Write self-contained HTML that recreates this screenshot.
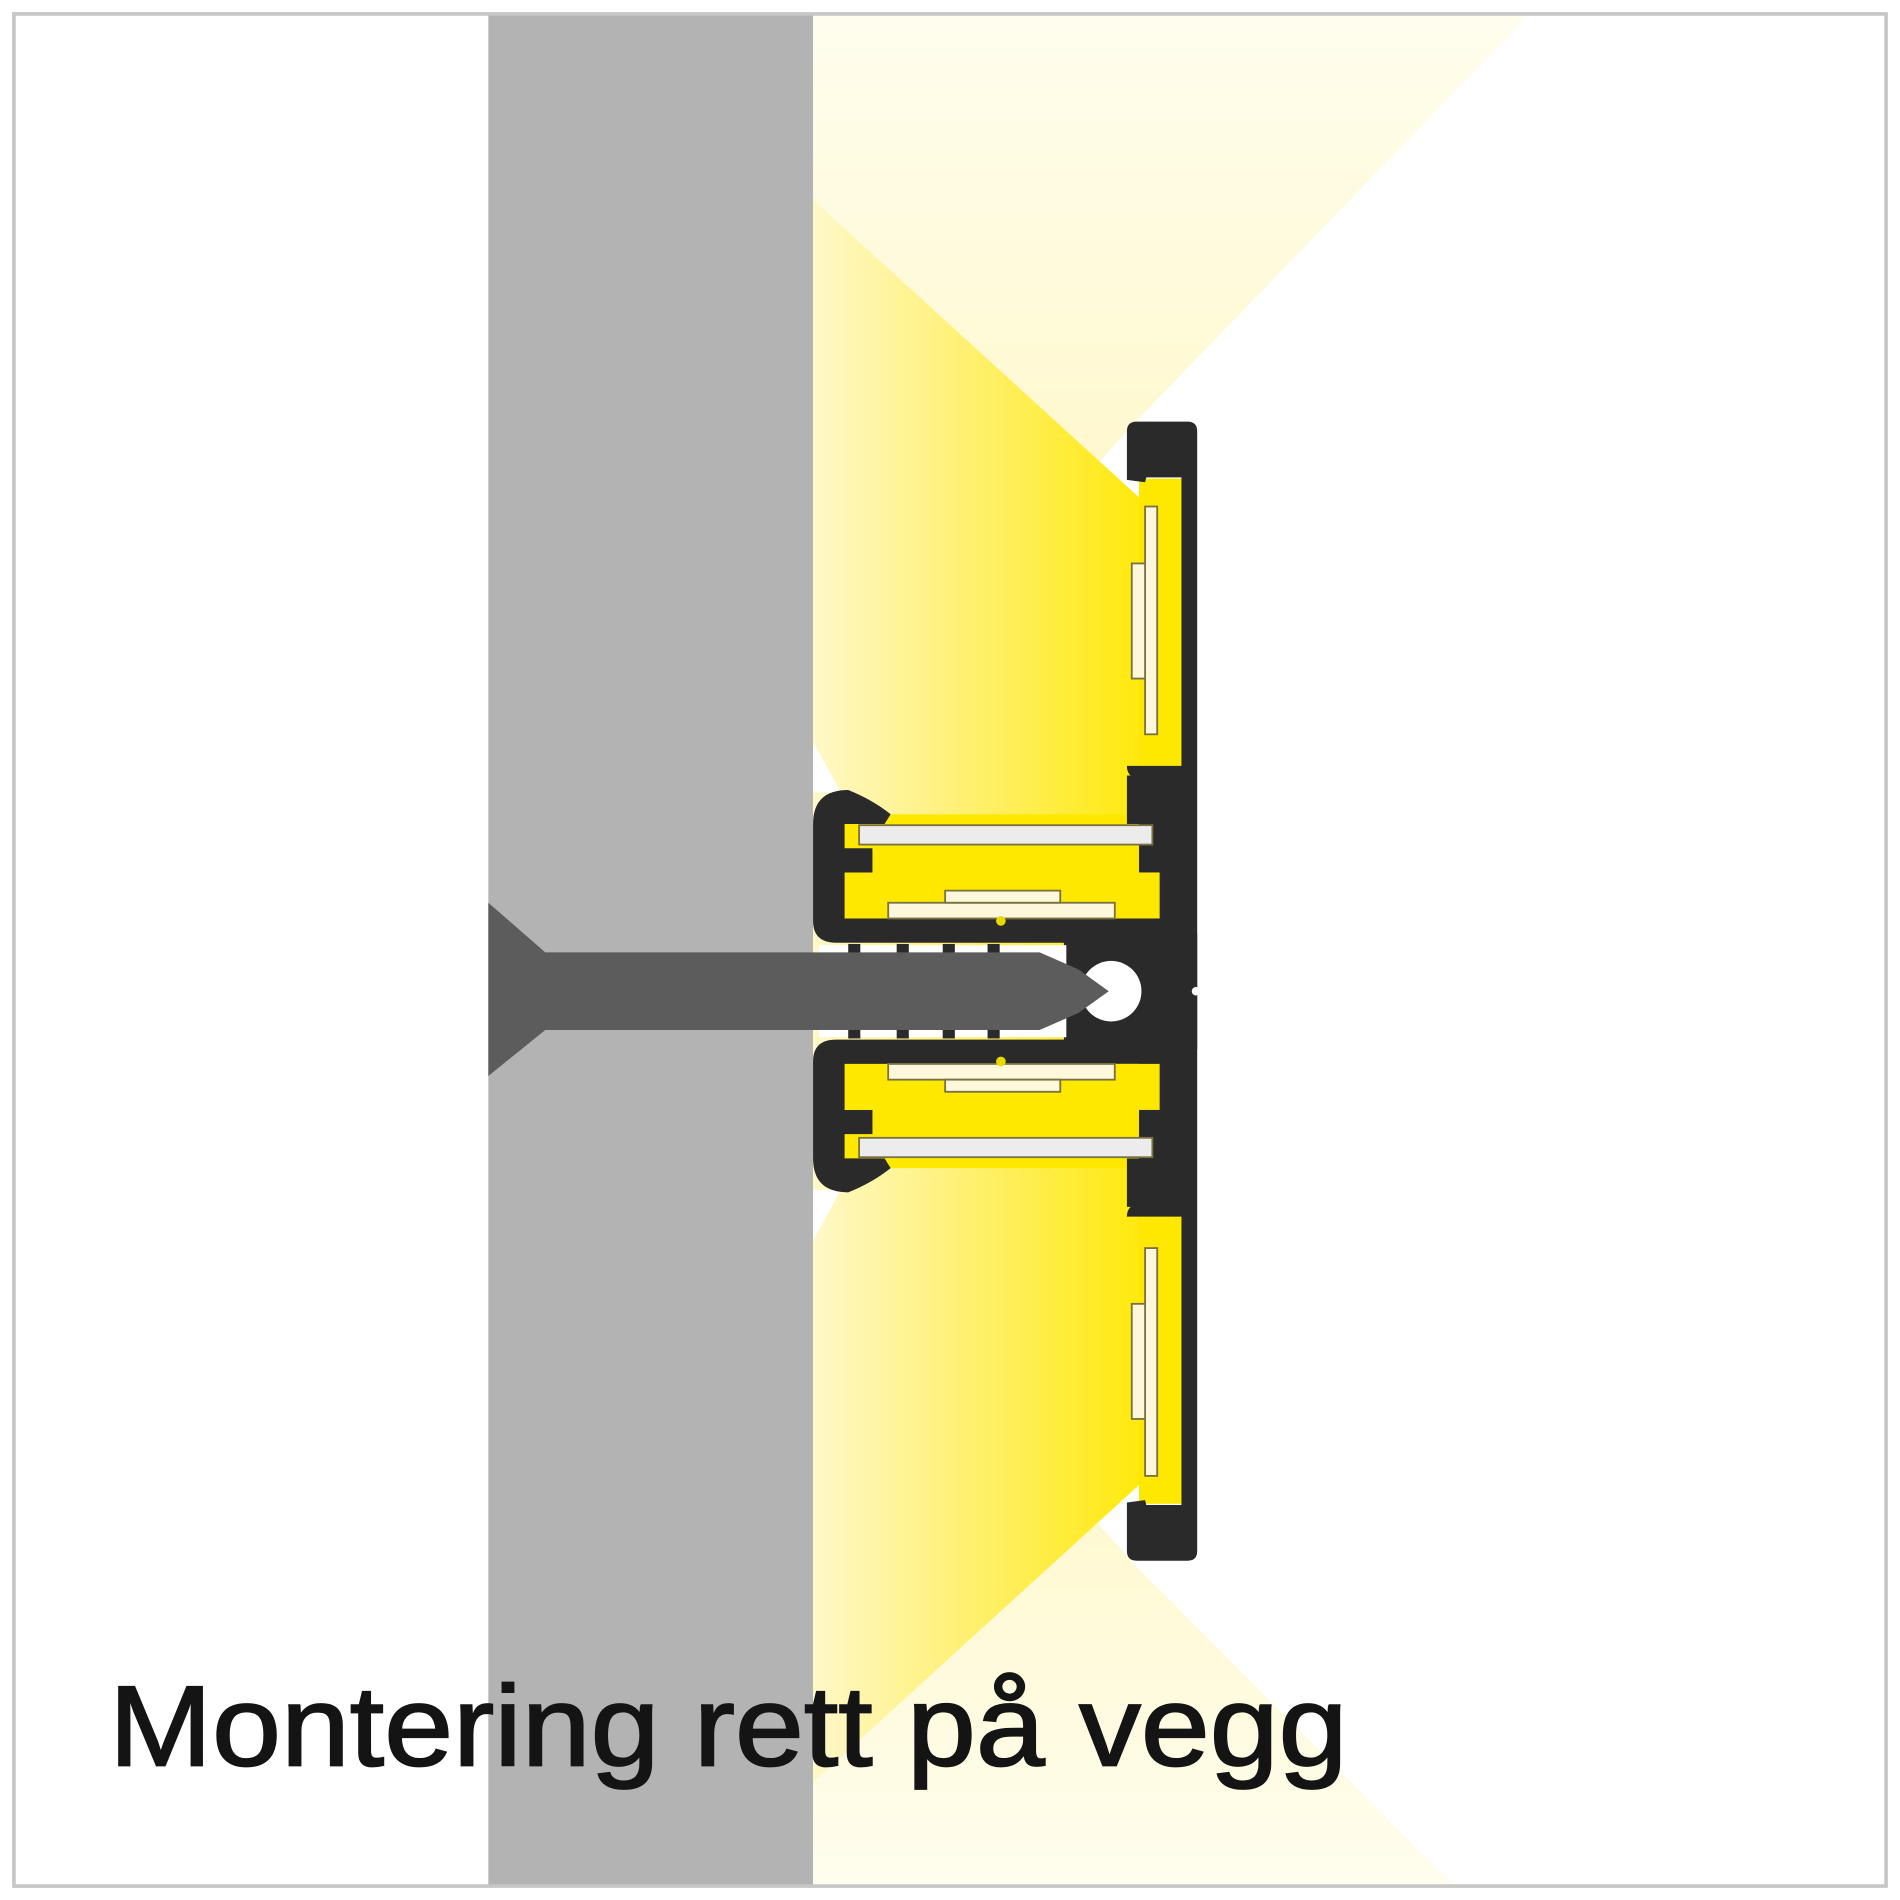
<!DOCTYPE html>
<html><head><meta charset="utf-8"><style>html,body{margin:0;padding:0;background:#fff}svg{display:block}</style></head>
<body>
<svg width="1900" height="1900" viewBox="0 0 1568 1568" xmlns="http://www.w3.org/2000/svg">
<defs>
<linearGradient id="gy" x1="671" y1="0" x2="960" y2="0" gradientUnits="userSpaceOnUse">
<stop offset="0" stop-color="#fff8c8"/><stop offset="0.45" stop-color="#fff070"/><stop offset="1" stop-color="#ffe800"/>
</linearGradient>
<linearGradient id="gp" x1="0" y1="12" x2="0" y2="640" gradientUnits="userSpaceOnUse">
<stop offset="0" stop-color="#fffdee"/><stop offset="1" stop-color="#fff5b8"/>
</linearGradient>
<linearGradient id="gp2" x1="0" y1="1556" x2="0" y2="990" gradientUnits="userSpaceOnUse">
<stop offset="0" stop-color="#fffdee"/><stop offset="1" stop-color="#fff5b8"/>
</linearGradient>
</defs>
<rect x="0" y="0" width="1568" height="1568" fill="#fff"/>
<rect x="403" y="12" width="268" height="1544" fill="#b3b3b3"/>
<polygon points="671,12 1262,12 940,345 671,640" fill="url(#gp)"/>
<polygon points="671,1556 1200,1556 935,1290 671,990" fill="url(#gp2)"/>
<polygon points="671,165 945,415 975,400 975,1236 945,1221 671,1471" fill="url(#gy)"/>
<rect x="940" y="395" width="36" height="846" fill="#ffe800"/>
<polygon points="671,612 694,654 671,654" fill="#fff"/>
<polygon points="671,1024 694,982 671,982" fill="#fff"/>
<rect x="695" y="672" width="265" height="90" fill="#ffe800"/>
<rect x="695" y="874" width="265" height="90" fill="#ffe800"/>
<g fill="#2a2a2a">
<path d="M930,356 Q930,348 938,348 L980,348 Q988,348 988,356 L988,1280 Q988,1288 980,1288 L938,1288 Q930,1288 930,1280 L930,1240 L945,1238 L946,1242 L975,1242 L975,394 L946,394 L945,398 L930,396 Z"/>
<path d="M930,632 L976,632 L976,1004 L930,1004 Q930,996 937,994 L940,994 L940,642 L937,642 Q930,640 930,632 Z"/>
<rect x="930" y="640" width="46" height="40"/>
<rect x="930" y="956" width="46" height="40"/>
<path d="M671,680 Q671,652 700,652 Q720,660 735,672 L730,680 L697,680 L697,700 L720,700 L720,720 L697,720 L697,758 L975,758 L975,778 L690,778 Q671,778 671,760 Z"/>
<path d="M671,956 Q671,984 700,984 Q720,976 735,964 L730,956 L697,956 L697,936 L720,936 L720,916 L697,916 L697,878 L975,878 L975,858 L690,858 Q671,858 671,876 Z"/>
<rect x="878" y="770" width="100" height="96"/>
<rect x="960" y="770" width="28" height="96"/>
</g>
<!-- yellow inner pockets near right column -->
<rect x="920" y="720" width="37" height="38" fill="#ffe800"/>
<rect x="920" y="878" width="37" height="38" fill="#ffe800"/>
<rect x="920" y="680" width="10" height="20" fill="#ffe800"/>
<rect x="920" y="936" width="10" height="20" fill="#ffe800"/>
<circle cx="987" cy="818" r="3.5" fill="#fff"/>
<circle cx="917" cy="818" r="25" fill="#fff"/>
<rect x="676" y="780" width="204" height="76" fill="#fff"/>
<g fill="#2a2a2a">
<rect x="700" y="779" width="10" height="8"/><rect x="740" y="779" width="10" height="8"/><rect x="778" y="779" width="10" height="8"/><rect x="815" y="779" width="10" height="8"/>
<rect x="700" y="849" width="10" height="8"/><rect x="740" y="849" width="10" height="8"/><rect x="778" y="849" width="10" height="8"/><rect x="815" y="849" width="10" height="8"/>
</g>
<polygon points="403,745 450,786 858,786 890,800 915,818 890,836 858,850 450,850 403,888" fill="#5c5c5c"/>
<g stroke="#7a7040" stroke-width="1.5">
<rect x="709" y="681" width="242" height="16" fill="#ececec"/>
<rect x="709" y="939" width="242" height="16" fill="#ececec"/>
<rect x="733" y="745" width="187" height="13" fill="#fdf8dc"/>
<rect x="780" y="735" width="95" height="10" fill="#fdf8dc"/>
<rect x="733" y="878" width="187" height="13" fill="#fdf8dc"/>
<rect x="780" y="891" width="95" height="10" fill="#fdf8dc"/>
<rect x="945" y="418" width="10" height="188" fill="#fdf8dc"/>
<rect x="934" y="465" width="11" height="95" fill="#fdf8dc"/>
<rect x="945" y="1030" width="10" height="188" fill="#fdf8dc"/>
<rect x="934" y="1076" width="11" height="95" fill="#fdf8dc"/>
</g>
<circle cx="826" cy="760" r="4" fill="#e8d800"/>
<circle cx="826" cy="876" r="4" fill="#e8d800"/>
<rect x="11.5" y="11.5" width="1545" height="1545" fill="none" stroke="#c6c6c6" stroke-width="3"/>
<text x="90" y="1457" font-family="Liberation Sans, Arial, sans-serif" font-size="94" fill="#141414" stroke="#141414" stroke-width="1.5" textLength="1022" lengthAdjust="spacingAndGlyphs">Montering rett på vegg</text>
</svg>
</body></html>
